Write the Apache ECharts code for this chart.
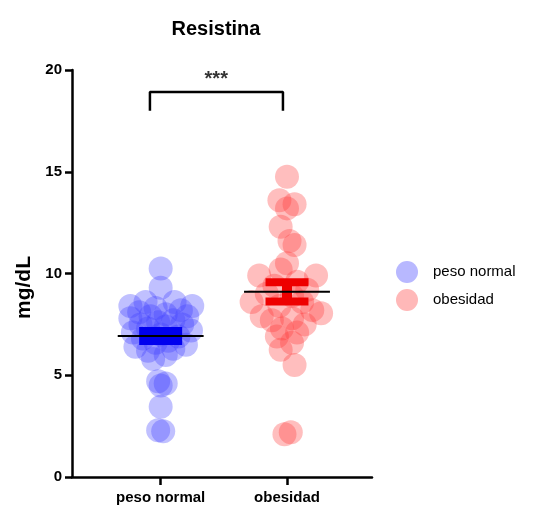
<!DOCTYPE html>
<html>
<head>
<meta charset="utf-8">
<script src="https://cdn.jsdelivr.net/npm/echarts/dist/echarts.min.js"></script>
<style>
  html, body { margin: 0; padding: 0; background: #fff; }
  #chart { width: 536px; height: 507px; }
</style>
</head>
<body>
<div id="chart"></div>
<script>
// groups and summary values
var groups = ['peso normal', 'obesidad'];
var meanVals = [6.93, 9.1];
var semVals = [0.25, 0.47];
var yTicks = [0, 5, 10, 15, 20];

// individual points, value + horizontal jitter (in category units)
var normalVals = [10.25, 9.3, 8.6, 8.6, 8.4, 8.4, 8.3, 8.2, 8.1, 8.0, 7.9, 7.9, 7.8, 7.7, 7.6, 7.5, 7.5, 7.4, 7.3,
  7.2, 7.1, 7.0, 6.9, 6.8, 6.7, 6.6, 6.5, 6.4, 6.3, 6.2, 6.0, 5.8, 4.7, 4.6, 4.5, 3.45, 2.3, 2.25];
var normalJitter = [0, 0, -0.12, 0.11, -0.24, 0.25, -0.04, 0.16, -0.17, 0.04, -0.08, 0.21, -0.24, 0.1, -0.02, -0.16, 0.17,
  0.04, -0.1, 0.24, -0.22, 0, 0.14, -0.14, 0.06, -0.04, 0.2, -0.2, 0.1, -0.1, 0.04, -0.06, -0.02, 0.04, 0, 0, -0.02, 0.02];

var obesVals = [14.75, 13.6, 13.4, 13.2, 12.3, 11.6, 11.4, 10.5, 10.2, 9.9, 9.9, 9.6, 9.4, 9.2, 9.0, 8.9, 8.6, 8.6,
  8.4, 8.2, 8.05, 7.9, 7.8, 7.7, 7.5, 7.3, 7.1, 6.9, 6.6, 6.25, 5.5, 2.2, 2.1];
var obesJitter = [0, -0.06, 0.06, 0, -0.05, 0.02, 0.06, 0, -0.05, -0.22, 0.23, 0.08, -0.1, 0.16, -0.16, 0.04, -0.28, 0.12,
  -0.06, 0.2, 0.27, -0.2, 0.04, -0.12, 0.14, -0.04, 0.08, -0.08, 0.04, -0.05, 0.06, 0.03, -0.02];

var FONT = 'Arial, "Liberation Sans", sans-serif';

function points(vals, jitter, pos) {
  var out = [];
  for (var i = 0; i < vals.length; ++i) {
    out.push([pos + jitter[i], vals[i]]);
  }
  return out;
}

var errData = [];
for (var i = 0; i < groups.length; ++i) {
  errData.push([i + 1, meanVals[i], semVals[i]]);
}

function renderErr(params, api) {
  var x = api.value(0);
  var m = api.value(1);
  var s = api.value(2);
  var color = params.dataIndex === 0 ? '#0000ee' : '#ee0000';
  var capL = api.coord([x - 0.17, m + s])[0];
  var capR = api.coord([x + 0.17, m + s])[0];
  var meanL = api.coord([x - 0.34, m])[0];
  var meanR = api.coord([x + 0.34, m])[0];
  var yTop = api.coord([x, m + s])[1];
  var yBot = api.coord([x, m - s])[1];
  var yMid = api.coord([x, m])[1];
  var cx = api.coord([x, m])[0];
  var capStyle = { stroke: color, lineWidth: 8 };
  return {
    type: 'group',
    children: [
      { type: 'line', shape: { x1: cx, y1: yTop, x2: cx, y2: yBot }, style: { stroke: color, lineWidth: 10 } },
      { type: 'line', shape: { x1: capL, y1: yTop, x2: capR, y2: yTop }, style: capStyle },
      { type: 'line', shape: { x1: capL, y1: yBot, x2: capR, y2: yBot }, style: capStyle },
      { type: 'line', shape: { x1: meanL, y1: yMid, x2: meanR, y2: yMid }, style: { stroke: '#000', lineWidth: 2 } }
    ]
  };
}

var chart = echarts.init(document.getElementById('chart'), null, { renderer: 'canvas' });

var option = {
  animation: false,
  backgroundColor: '#fff',
  title: {
    text: 'Resistina',
    left: 211,
    top: 14,
    textAlign: 'center',
    textStyle: { fontFamily: FONT, fontWeight: 'bold', fontSize: 20, color: '#000' }
  },
  legend: {
    orient: 'vertical',
    left: 391,
    top: 256,
    itemWidth: 22,
    itemHeight: 22,
    itemGap: 6,
    icon: 'circle',
    textStyle: { fontFamily: FONT, fontSize: 15, color: '#000', padding: [0, 0, 0, 10] },
    data: [
      { name: groups[0], itemStyle: { color: '#b8b8ff', opacity: 1 } },
      { name: groups[1], itemStyle: { color: '#ffb8b8', opacity: 1 } }
    ]
  },
  grid: { left: 72, right: 164, top: 70, bottom: 30 },
  xAxis: {
    type: 'value',
    min: 0.298,
    max: 2.673,
    splitLine: { show: false },
    axisLine: { show: true, lineStyle: { color: '#000', width: 2.5 } },
    axisTick: { show: true, customValues: [1, 2], length: 8, lineStyle: { color: '#000', width: 2.5 } },
    axisLabel: {
      customValues: [1, 2],
      margin: 13,
      formatter: function (v) { return groups[Math.round(v) - 1]; },
      fontFamily: FONT, fontWeight: 'bold', fontSize: 15, color: '#000'
    }
  },
  yAxis: {
    type: 'value',
    min: yTicks[0],
    max: yTicks[yTicks.length - 1],
    interval: 5,
    name: 'mg/dL',
    nameLocation: 'middle',
    nameGap: 36,
    nameTextStyle: { fontFamily: FONT, fontWeight: 'bold', fontSize: 21, color: '#000', padding: [0, 28, 0, 0] },
    splitLine: { show: false },
    axisLine: { show: true, lineStyle: { color: '#000', width: 2.5 } },
    axisTick: { show: true, length: 7, lineStyle: { color: '#000', width: 2.5 } },
    axisLabel: { margin: 10, fontFamily: FONT, fontWeight: 'bold', fontSize: 15, color: '#000' }
  },
  series: [
    {
      name: groups[0],
      type: 'scatter',
      symbolSize: 24,
      itemStyle: { color: '#4040ff', opacity: 0.33 },
      data: points(normalVals, normalJitter, 1)
    },
    {
      name: groups[1],
      type: 'scatter',
      symbolSize: 24,
      itemStyle: { color: '#ff3a3a', opacity: 0.33 },
      data: points(obesVals, obesJitter, 2)
    },
    {
      type: 'custom',
      renderItem: renderErr,
      data: errData,
      z: 5
    },
    {
      type: 'line',
      symbol: 'none',
      lineStyle: { color: '#000', width: 2.5 },
      data: [[0.915, 18.0], [0.915, 18.92], [1.968, 18.92], [1.968, 18.0]],
      z: 5
    },
    {
      type: 'scatter',
      symbolSize: 0,
      label: {
        show: true,
        position: 'inside',
        formatter: '***',
        fontFamily: FONT, fontWeight: 'bold', fontSize: 20, color: '#000'
      },
      data: [[1.44, 19.55]],
      z: 5
    }
  ]
};

chart.setOption(option);
</script>
</body>
</html>
